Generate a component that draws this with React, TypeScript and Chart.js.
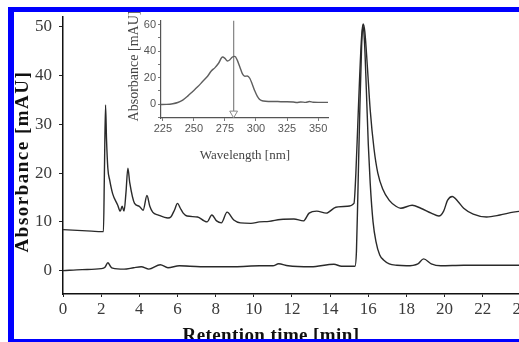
import React, { useEffect, useRef } from "react";
import { Chart, registerables } from "chart.js";

Chart.register(...registerables);

// ---- Main chromatogram data: [retention time (min), absorbance (mAU)] ----
const UPPER_TRACE: number[][] = [
  [0, 8.4], [0.5, 8.3], [1, 8.2], [1.5, 8.1], [2, 8.0], [2.12, 8.0], [2.17, 20], [2.23, 34],
  [2.28, 27], [2.35, 21], [2.45, 18.5], [2.6, 15.8], [2.87, 13.4], [3.0, 12.2], [3.1, 13.2],
  [3.2, 12.2], [3.3, 16], [3.4, 21], [3.5, 18], [3.75, 13.8], [4.0, 13.2], [4.2, 12.4],
  [4.4, 15.4], [4.55, 13.2], [4.7, 12], [5.0, 11.4], [5.5, 10.8], [5.65, 11], [5.85, 12.5],
  [6.0, 13.8], [6.15, 12.8], [6.3, 11.8], [6.5, 11.2], [7.05, 11], [7.4, 10.2], [7.55, 10],
  [7.8, 11.4], [8.05, 10.2], [8.3, 9.8], [8.6, 12], [8.95, 10.4], [9.3, 9.8], [9.85, 9.7],
  [10.3, 10], [10.8, 10.1], [11.4, 10.5], [12.1, 10.6], [12.6, 10.2], [12.9, 11.8], [13.3, 12.2],
  [13.8, 11.8], [14.3, 13], [14.9, 13.2], [15.25, 13.8], [15.35, 20], [15.45, 30], [15.55, 40],
  [15.65, 48], [15.73, 50.6], [15.82, 49], [15.95, 42], [16.1, 33], [16.3, 25], [16.5, 20],
  [16.75, 16.8], [17.1, 14.4], [17.45, 13.2], [17.7, 12.8], [18.3, 13.4], [18.75, 12.8],
  [19.3, 11.8], [19.7, 11.2], [19.95, 12.2], [20.15, 14.4], [20.4, 15.2], [20.7, 14.2],
  [21.0, 12.8], [21.5, 11.6], [22.2, 11], [22.9, 11.4], [23.6, 12], [24.0, 12.2], [25, 12.4],
];

const LOWER_TRACE: number[][] = [
  [0, 0], [1, 0.2], [2, 0.4], [2.2, 0.7], [2.35, 1.6], [2.5, 0.8], [2.6, 0.5], [3.2, 0.3],
  [3.7, 0.6], [4.1, 0.8], [4.5, 0.3], [5.1, 1.2], [5.5, 0.6], [6.1, 1.0], [7.2, 0.8], [9, 0.8],
  [10.3, 1.0], [11.0, 1.0], [11.3, 1.4], [11.8, 1.0], [13, 0.8], [14.2, 1.3], [14.6, 0.9],
  [15.3, 0.9], [15.38, 4], [15.45, 15], [15.55, 32], [15.65, 46], [15.72, 50.3], [15.8, 47],
  [15.9, 37], [16.0, 26], [16.1, 18], [16.25, 10], [16.4, 6], [16.6, 3.2], [16.8, 2.2],
  [17.1, 1.4], [17.5, 1.1], [18, 1.0], [18.6, 1.4], [18.9, 2.4], [19.3, 1.4], [19.8, 1.0],
  [21, 1.1], [23, 1.1], [25, 1.1],
];

const MAIN_X_TICKS = [0, 2, 4, 6, 8, 10, 12, 14, 16, 18, 20, 22, 24];
const MAIN_Y_TICKS = [0, 10, 20, 30, 40, 50];

// ---- Inset UV spectrum: [wavelength (nm), absorbance (mAU)] ----
const SPECTRUM: number[][] = [
  [222.5, -0.3], [228, -0.2], [233, 0.3], [237, 1.2], [241, 3], [245, 6], [249, 9.5], [253, 13],
  [257, 17], [261, 21], [264, 25], [267, 27.5], [270, 31], [273, 35.5], [275, 34.5], [277, 32.5],
  [279, 33.5], [281, 35.5], [283, 36], [285, 33], [287, 28], [289, 23], [291, 21], [293, 21.2],
  [295, 19.5], [297, 15], [299, 10], [301, 6], [303, 3.5], [306, 2.3], [310, 2], [315, 2],
  [320, 1.8], [325, 1.8], [330, 1.6], [333, 1.2], [336, 1.6], [340, 1.3], [343, 1.9], [346, 1.4],
  [350, 1.3], [355, 1.3], [358, 1.3],
];
const MARKER_WAVELENGTH = [282, 282];
const MARKER_LEVELS = [63, -7];

const INSET_X_TICKS = [225, 250, 275, 300, 325, 350];
const INSET_Y_TICKS = [-10, 0, 10, 20, 30, 40, 50, 60];
const INSET_Y_LABELS = [0, 20, 40, 60];

const toPoints = (arr: number[][]) => arr.map(([x, y]) => ({ x, y }));

export default function App() {
  const mainRef = useRef<HTMLCanvasElement>(null);
  const insetRef = useRef<HTMLCanvasElement>(null);

  useEffect(() => {
    const serif = "'Liberation Serif', 'Times New Roman', serif";
    const sans = "'Liberation Sans', Arial, sans-serif";

    const mainTitles = {
      id: "mainTitles",
      afterDraw(chart: any) {
        const ctx = chart.ctx;
        ctx.save();
        ctx.fillStyle = "#111";
        ctx.font = `bold 19px ${serif}`;
        (ctx as any).letterSpacing = "0.4px";
        ctx.textAlign = "center";
        ctx.textBaseline = "alphabetic";
        ctx.fillText("Retention time [min]", 271, 341);
        ctx.translate(28, 161.5);
        ctx.rotate(-Math.PI / 2);
        (ctx as any).letterSpacing = "1.5px";
        ctx.fillText("Absorbance [mAU]", 0, 0);
        ctx.restore();
      },
    };

    const main = new Chart(mainRef.current!, {
      type: "line",
      data: {
        datasets: [
          {
            data: toPoints(LOWER_TRACE),
            borderColor: "#2a2a2a",
            borderWidth: 1.4,
            pointRadius: 0,
            cubicInterpolationMode: "monotone",
          },
          {
            data: toPoints(UPPER_TRACE),
            borderColor: "#2a2a2a",
            borderWidth: 1.4,
            pointRadius: 0,
            cubicInterpolationMode: "monotone",
          },
        ],
      },
      options: {
        responsive: false,
        animation: false,
        devicePixelRatio: 1,
        layout: { padding: { top: 10, left: 0, right: 0, bottom: 0 } },
        plugins: { legend: { display: false }, tooltip: { enabled: false } },
        scales: {
          x: {
            type: "linear",
            min: 0,
            max: 25,
            afterFit: (s: any) => { s.height = 48; },
            afterBuildTicks: (s: any) => { s.ticks = MAIN_X_TICKS.map((v) => ({ value: v })); },
            ticks: { autoSkip: false, maxRotation: 0, padding: 2, color: "#3a3a3a", font: { family: serif, size: 17 } },
            grid: { drawOnChartArea: false, drawTicks: true, tickLength: 3, color: "#222" },
            border: { display: true, color: "#111", width: 1.5 },
          },
          y: {
            type: "linear",
            min: -4.8,
            max: 52,
            afterFit: (s: any) => { s.width = 63; },
            afterBuildTicks: (s: any) => { s.ticks = MAIN_Y_TICKS.map((v) => ({ value: v })); },
            ticks: { autoSkip: false, padding: 7, color: "#3a3a3a", font: { family: serif, size: 17 } },
            grid: { drawOnChartArea: false, drawTicks: true, tickLength: 4, color: "#222" },
            border: { display: true, color: "#111", width: 1.5 },
          },
        },
      } as any,
      plugins: [mainTitles],
    });

    const insetTitles = {
      id: "insetTitles",
      afterDraw(chart: any) {
        const ctx = chart.ctx;
        ctx.save();
        ctx.fillStyle = "#444";
        ctx.font = `13px ${serif}`;
        ctx.textAlign = "center";
        ctx.textBaseline = "alphabetic";
        ctx.fillText("Wavelength [nm]", 125, 147);
        ctx.translate(17.5, 54);
        ctx.rotate(-Math.PI / 2);
        ctx.font = `14px ${serif}`;
        ctx.fillText("Absorbance [mAU]", 0, 0);
        ctx.restore();
      },
    };

    const inset = new Chart(insetRef.current!, {
      type: "line",
      data: {
        datasets: [
          {
            data: toPoints(SPECTRUM),
            borderColor: "#5e5e5e",
            borderWidth: 1.4,
            pointRadius: 0,
            cubicInterpolationMode: "monotone",
          },
          {
            data: MARKER_WAVELENGTH.map((x, i) => ({ x, y: MARKER_LEVELS[i] })),
            borderColor: "#8a8a8a",
            borderWidth: 1.3,
            pointRadius: [0, 4.5],
            pointStyle: "triangle",
            rotation: 180,
            pointBackgroundColor: "#fff",
            pointBorderColor: "#8a8a8a",
            pointBorderWidth: 1,
          },
        ],
      },
      options: {
        responsive: false,
        animation: false,
        devicePixelRatio: 1,
        layout: { padding: { top: 8, left: 0, right: 7, bottom: 0 } },
        plugins: { legend: { display: false }, tooltip: { enabled: false } },
        scales: {
          x: {
            type: "linear",
            min: 223.5,
            max: 358,
            afterFit: (s: any) => { s.height = 54; },
            afterBuildTicks: (s: any) => { s.ticks = INSET_X_TICKS.map((v) => ({ value: v })); },
            ticks: { autoSkip: false, maxRotation: 0, padding: 1, color: "#555", font: { family: sans, size: 11 } },
            grid: { drawOnChartArea: false, drawTicks: true, tickLength: 3, color: "#777" },
            border: { display: true, color: "#555", width: 1.2 },
          },
          y: {
            type: "linear",
            min: -10.5,
            max: 63,
            afterFit: (s: any) => { s.width = 41; },
            afterBuildTicks: (s: any) => { s.ticks = INSET_Y_TICKS.map((v) => ({ value: v })); },
            ticks: {
              autoSkip: false,
              padding: 2,
              color: "#555",
              font: { family: sans, size: 11 },
              callback: (v: any) => (INSET_Y_LABELS.includes(Number(v)) ? String(v) : ""),
            },
            grid: { drawOnChartArea: false, drawTicks: true, tickLength: 3, color: "#777" },
            border: { display: true, color: "#555", width: 1.2 },
          },
        },
      } as any,
      plugins: [insetTitles],
    });

    return () => {
      main.destroy();
      inset.destroy();
    };
  }, []);

  return (
    <div style={{ position: "fixed", left: 0, top: 0, width: 519, height: 342, overflow: "hidden", background: "#fff" }}>
      <canvas ref={mainRef} width={540} height={342} style={{ position: "absolute", left: 0, top: 0, width: 540, height: 342 }} />
      <canvas ref={insetRef} width={215} height={160} style={{ position: "absolute", left: 120, top: 12, width: 215, height: 160 }} />
      <div
        style={{
          position: "absolute",
          left: 8,
          top: 7,
          width: 600,
          height: 335,
          boxSizing: "border-box",
          borderTop: "5px solid #0000ff",
          borderLeft: "6px solid #0000ff",
          borderBottom: "3px solid #0000ff",
          pointerEvents: "none",
        }}
      />
    </div>
  );
}
